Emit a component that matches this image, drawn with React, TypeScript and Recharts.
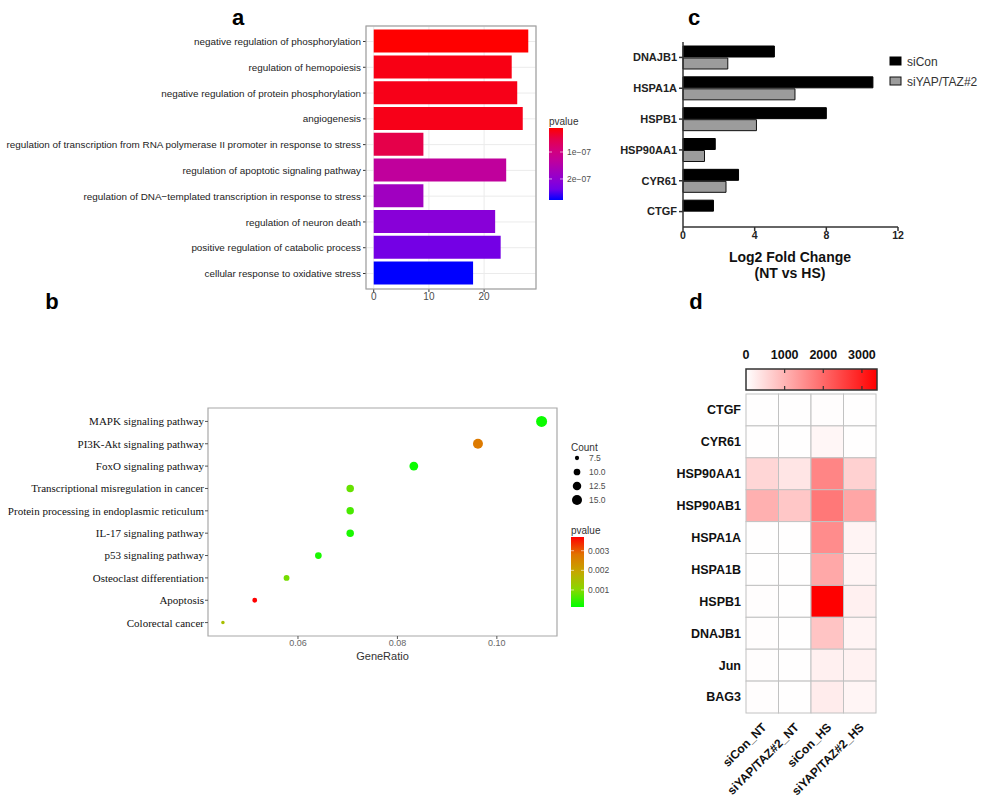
import React from 'react';
import {
  BarChart, Bar, XAxis, YAxis, CartesianGrid, Cell, ReferenceArea,
  ScatterChart, Scatter, ZAxis,
} from 'recharts';

const SANS = '"Liberation Sans", Arial, sans-serif';
const SERIF = '"Liberation Serif", "Times New Roman", serif';

// ---------- panel a: GO enrichment (count, pvalue)
const goTerms = [
  'negative regulation of phosphorylation',
  'regulation of hemopoiesis',
  'negative regulation of protein phosphorylation',
  'angiogenesis',
  'regulation of transcription from RNA polymerase II promoter in response to stress',
  'regulation of apoptotic signaling pathway',
  'regulation of DNA\u2212templated transcription in response to stress',
  'regulation of neuron death',
  'positive regulation of catabolic process',
  'cellular response to oxidative stress',
];
const goCounts = [28, 25, 26, 27, 9, 24, 9, 22, 23, 18];
const goPvalues = [1.1e-8, 2.2e-8, 2.4e-8, 2.4e-8, 5.1e-8, 1.31e-7, 1.77e-7, 2.11e-7, 2.33e-7, 2.78e-7];
const goCountTicks = [0, 10, 20];
const goPvalueTicks = [1e-7, 2e-7];
const goPvalueRange = [1.1e-8, 2.78e-7];

// ---------- panel b: KEGG dot plot
const keggPathways = [
  'MAPK signaling pathway',
  'PI3K-Akt signaling pathway',
  'FoxO signaling pathway',
  'Transcriptional misregulation in cancer',
  'Protein processing in endoplasmic reticulum',
  'IL-17 signaling pathway',
  'p53 signaling pathway',
  'Osteoclast differentiation',
  'Apoptosis',
  'Colorectal cancer',
];
const keggGeneRatio = [0.109, 0.0962, 0.0833, 0.0705, 0.0705, 0.0705, 0.0641, 0.0577, 0.0513, 0.0449];
const keggCounts = [17, 15, 13, 11, 11, 11, 10, 9, 8, 7];
const keggPvalues = [0.0002, 0.0027, 0.0002, 0.0008, 0.0006, 0.0003, 0.0003, 0.0009, 0.0037, 0.0015];
const keggRatioTicks = [0.06, 0.08, 0.1];
const keggCountBreaks = [7.5, 10, 12.5, 15];
const keggPvalueTicks = [0.003, 0.002, 0.001];
const keggPvalueRange = [0.00013, 0.0037];

// ---------- panel c: log2 fold change
const fcGenes = ['DNAJB1', 'HSPA1A', 'HSPB1', 'HSP90AA1', 'CYR61', 'CTGF'];
const fcSiCon = [5.1, 10.6, 8.0, 1.8, 3.1, 1.7];
const fcSiYAP = [2.5, 6.25, 4.1, 1.2, 2.4, 0];
const fcTicks = [0, 4, 8, 12];

// ---------- panel d: heatmap
const heatGenes = ['CTGF', 'CYR61', 'HSP90AA1', 'HSP90AB1', 'HSPA1A', 'HSPA1B', 'HSPB1', 'DNAJB1', 'Jun', 'BAG3'];
const heatSamples = ['siCon_NT', 'siYAP/TAZ#2_NT', 'siCon_HS', 'siYAP/TAZ#2_HS'];
const heatSiConNT = [15, 10, 540, 1050, 15, 15, 20, 20, 20, 20];
const heatSiYapNT = [10, 10, 340, 740, 10, 10, 10, 10, 15, 15];
const heatSiConHS = [20, 120, 1620, 1800, 1530, 1160, 3390, 790, 200, 250];
const heatSiYapHS = [10, 10, 610, 1180, 150, 130, 200, 150, 170, 130];
const heatTicks = [0, 1000, 2000, 3000];
const heatMax = 3390;

// ---------- colour helpers
const RED_BLUE: [number, string][] = [
  [0, '#ff0000'], [0.15, '#e5004a'], [0.3, '#d4007a'], [0.45, '#c0009c'],
  [0.62, '#a000c0'], [0.75, '#8800d8'], [0.85, '#7000e8'], [1, '#0000ff'],
];
const GREEN_RED: [number, string][] = [
  [0, '#00ff00'], [0.25, '#88d800'], [0.5, '#c4a800'], [0.75, '#e07400'], [1, '#ff0000'],
];

const toRgb = (h: string) => [1, 3, 5].map((i) => parseInt(h.slice(i, i + 2), 16));
const toHex = (c: number[]) => '#' + c.map((v) => Math.round(v).toString(16).padStart(2, '0')).join('');

function mix(stops: [number, string][], t: number) {
  const c = Math.max(0, Math.min(1, t));
  for (let i = 1; i < stops.length; i++) {
    if (c <= stops[i][0]) {
      const [t0, a] = stops[i - 1];
      const [t1, b] = stops[i];
      const k = (c - t0) / (t1 - t0);
      const pa = toRgb(a);
      const pb = toRgb(b);
      return toHex(pa.map((v, j) => v + (pb[j] - v) * k));
    }
  }
  return stops[stops.length - 1][1];
}

const goColor = (p: number) => mix(RED_BLUE, (p - goPvalueRange[0]) / (goPvalueRange[1] - goPvalueRange[0]));
const keggColor = (p: number) => mix(GREEN_RED, (p - keggPvalueRange[0]) / (keggPvalueRange[1] - keggPvalueRange[0]));
const heatColor = (v: number) => {
  const g = 255 * (1 - Math.min(1, v / heatMax));
  return toHex([255, g, g]);
};

// ZAxis area mapping (also used for the Count legend)
const COUNT_DOMAIN = [7, 17];
const AREA_RANGE = [10, 95];
const countRadius = (c: number) => {
  const a = AREA_RANGE[0] + ((c - COUNT_DOMAIN[0]) / (COUNT_DOMAIN[1] - COUNT_DOMAIN[0])) * (AREA_RANGE[1] - AREA_RANGE[0]);
  return Math.sqrt(a / Math.PI);
};

const goData = goTerms.map((term, i) => ({ term, count: goCounts[i], pvalue: goPvalues[i] }));
const keggData = keggPathways.map((name, i) => ({
  name, rank: keggPathways.length - i, ratio: keggGeneRatio[i], count: keggCounts[i], pvalue: keggPvalues[i],
}));
const fcData = fcGenes.map((gene, i) => ({ gene, siCon: fcSiCon[i], siYAP: fcSiYAP[i] }));
const heatColumns = [heatSiConNT, heatSiYapNT, heatSiConHS, heatSiYapHS];
const heatData = heatGenes.flatMap((gene, row) =>
  heatColumns.map((col, c) => ({ gene, row, col: c, value: col[row] })));

// heatmap plot box
const HEAT_W = 130;
const HEAT_H = 319;
const CELL_W = HEAT_W / heatSamples.length;
const CELL_H = HEAT_H / heatGenes.length;

const HeatCell = (props: any) => {
  const { cx, cy, payload } = props;
  return (
    <rect x={cx - CELL_W / 2} y={cy - CELL_H / 2} width={CELL_W} height={CELL_H}
      fill={heatColor(payload.value)} stroke="#c2c2c2" strokeWidth={1} />
  );
};

const SampleTick = (props: any) => {
  const { x, y, payload } = props;
  return (
    <text transform={`translate(${x + 5},${y + 7}) rotate(-45)`} textAnchor="end"
      fontSize={12} fontWeight="bold" fontFamily={SANS} fill="#111">
      {heatSamples[payload.value]}
    </text>
  );
};

// single-line left tick (Recharts would wrap long labels)
const LeftTick = (props: any) => {
  const { x, y, payload, fmt, size, family, color, weight } = props;
  return (
    <text x={x} y={y} dy="0.36em" textAnchor="end" fontSize={size} fontFamily={family}
      fill={color} fontWeight={weight}>
      {fmt ? fmt(payload.value) : payload.value}
    </text>
  );
};

const box = (left: number, top: number): React.CSSProperties => ({ position: 'absolute', left, top });

export default function App() {
  const goLegendY = (p: number) => 128 + ((p - goPvalueRange[0]) / (goPvalueRange[1] - goPvalueRange[0])) * 72;
  const keggLegendY = (p: number) => 607 - ((p - keggPvalueRange[0]) / (keggPvalueRange[1] - keggPvalueRange[0])) * 70;
  const heatLegendX = (v: number) => 746 + (v / heatMax) * 131;

  return (
    <div style={{ position: 'absolute', left: 0, top: 0, width: 985, height: 804, background: '#fff', fontFamily: SANS, overflow: 'hidden' }}>
      {/* a */}
      <div style={box(0, 0)}>
        <BarChart width={560} height={310} data={goData} layout="vertical"
          margin={{ top: 26, right: 24, bottom: 5, left: 0 }} barSize={23}>
          <CartesianGrid stroke="#ebebeb" />
          <XAxis type="number" dataKey="count" domain={[-1.4, 29.4]} ticks={goCountTicks}
            axisLine={false} tickSize={3} tickMargin={1} stroke="#333" height={16}
            tick={{ fontSize: 10, fill: '#4d4d4d', fontFamily: SANS }} />
          <YAxis type="category" dataKey="term" width={366} interval={0}
            axisLine={false} tickSize={3} tickMargin={2} stroke="#333"
            padding={{ top: 2.6, bottom: 2.6 }}
            tick={<LeftTick size={9.9} family={SANS} color="#222" />} />
          <Bar dataKey="count" isAnimationActive={false}>
            {goData.map((d) => <Cell key={d.term} fill={goColor(d.pvalue)} />)}
          </Bar>
        </BarChart>
      </div>

      {/* b */}
      <div style={box(0, 390)}>
        <ScatterChart width={560} height={280} margin={{ top: 18, right: 3, bottom: 10, left: 0 }}>
          <XAxis type="number" dataKey="ratio" domain={[0.0419, 0.1121]} ticks={keggRatioTicks}
            tickFormatter={(v: number) => v.toFixed(2)} axisLine={false} tickSize={3} tickMargin={1}
            stroke="#555" height={24}
            tick={{ fontSize: 9, fill: '#666', fontFamily: SANS }}
            label={{ value: 'GeneRatio', position: 'insideBottom', offset: 0, fontSize: 11, fill: '#333', fontFamily: SANS }} />
          <YAxis type="number" dataKey="rank" domain={[0.4, 10.6]} ticks={keggData.map((d) => d.rank)}
            interval={0} width={208} axisLine={false} tickSize={3} tickMargin={1} stroke="#555"
            tick={<LeftTick size={11} family={SERIF} color="#111"
              fmt={(v: number) => keggPathways[keggPathways.length - v]} />} />
          <ZAxis type="number" dataKey="count" domain={COUNT_DOMAIN} range={AREA_RANGE} />
          <ReferenceArea x1={0.0419} x2={0.1121} y1={0.4} y2={10.6} fill="none" stroke="#a8a8a8" strokeWidth={1.2} />
          <Scatter data={keggData} isAnimationActive={false}>
            {keggData.map((d) => <Cell key={d.name} fill={keggColor(d.pvalue)} />)}
          </Scatter>
        </ScatterChart>
      </div>

      {/* c */}
      <div style={box(600, 30)}>
        <BarChart width={320} height={215} data={fcData} layout="vertical"
          margin={{ top: 12, right: 22, bottom: 4, left: 0 }} barCategoryGap={4} barGap={1}>
          <XAxis type="number" domain={[0, 12]} ticks={fcTicks} height={14}
            axisLine={{ stroke: '#333', strokeWidth: 1.5 }} tickLine={{ stroke: '#333', strokeWidth: 1.5 }}
            tickSize={4} tickMargin={1}
            tick={{ fontSize: 10.5, fontWeight: 'bold', fill: '#222', fontFamily: SANS }} />
          <YAxis type="category" dataKey="gene" width={83} interval={0}
            axisLine={{ stroke: '#333', strokeWidth: 1.5 }} tickLine={{ stroke: '#333', strokeWidth: 1.5 }}
            tickSize={4} tickMargin={2}
            tick={{ fontSize: 11, fontWeight: 'bold', fill: '#222', fontFamily: SANS }} />
          <Bar dataKey="siCon" fill="#000" stroke="#000" strokeWidth={1} isAnimationActive={false} />
          <Bar dataKey="siYAP" fill="#9c9c9c" stroke="#111" strokeWidth={1} isAnimationActive={false} />
        </BarChart>
      </div>

      {/* d */}
      <div style={box(600, 380)}>
        <ScatterChart width={290} height={424} margin={{ top: 14, right: 14, bottom: 11, left: 0 }}>
          <XAxis type="number" dataKey="col" domain={[-0.5, 3.5]} ticks={[0, 1, 2, 3]} interval={0}
            axisLine={false} tickLine={false} height={80} tick={<SampleTick />} />
          <YAxis type="number" dataKey="row" domain={[-0.5, 9.5]} reversed ticks={heatGenes.map((_, i) => i)}
            tickFormatter={(v: number) => heatGenes[v]} interval={0} width={146}
            axisLine={false} tickLine={false} tickSize={0} tickMargin={5}
            tick={{ fontSize: 12.5, fontWeight: 'bold', fill: '#111', fontFamily: SANS }} />
          <Scatter data={heatData} shape={<HeatCell />} isAnimationActive={false} />
        </ScatterChart>
      </div>

      {/* overlay: panel letters, frames, legends, titles */}
      <svg width={985} height={804} style={{ position: 'absolute', left: 0, top: 0, pointerEvents: 'none' }}
        fontFamily={SANS}>
        <defs>
          <linearGradient id="goGrad" x1="0" y1="0" x2="0" y2="1">
            {RED_BLUE.map(([o, c]) => <stop key={o} offset={o} stopColor={c} />)}
          </linearGradient>
          <linearGradient id="keggGrad" x1="0" y1="1" x2="0" y2="0">
            {GREEN_RED.map(([o, c]) => <stop key={o} offset={o} stopColor={c} />)}
          </linearGradient>
          <linearGradient id="heatGrad" x1="0" y1="0" x2="1" y2="0">
            <stop offset={0} stopColor="#ffffff" />
            <stop offset={1} stopColor="#ff0000" />
          </linearGradient>
        </defs>

        <g fontSize={22} fontWeight="bold" fill="#000" dominantBaseline="central" textAnchor="middle">
          <text x={238} y={17}>a</text>
          <text x={52} y={301}>b</text>
          <text x={694} y={17}>c</text>
          <text x={696} y={301}>d</text>
        </g>

        {/* a panel frame */}
        <rect x={366} y={26} width={170} height={263} fill="none" stroke="#a0a0a0" strokeWidth={1.2} />

        {/* a legend */}
        <text x={549} y={121} fontSize={10} fill="#333" dominantBaseline="central">pvalue</text>
        <rect x={549} y={128} width={14} height={72} fill="url(#goGrad)" />
        {goPvalueTicks.map((p) => (
          <g key={p}>
            <line x1={549} x2={552} y1={goLegendY(p)} y2={goLegendY(p)} stroke="#fff" strokeOpacity={0.6} />
            <line x1={560} x2={563} y1={goLegendY(p)} y2={goLegendY(p)} stroke="#fff" strokeOpacity={0.6} />
            <text x={567} y={goLegendY(p)} fontSize={8.5} fill="#4d4d4d" dominantBaseline="central">
              {p.toExponential(0).replace('e-', 'e\u22120')}
            </text>
          </g>
        ))}

        {/* b legends */}
        <text x={571} y={447} fontSize={10} fill="#333" dominantBaseline="central">Count</text>
        {keggCountBreaks.map((c, i) => (
          <g key={c}>
            <circle cx={577} cy={458 + i * 14} r={countRadius(c)} fill="#000" />
            <text x={589} y={458 + i * 14} fontSize={8.5} fill="#4d4d4d" dominantBaseline="central">{c.toFixed(1)}</text>
          </g>
        ))}
        <text x={571} y={530} fontSize={10} fill="#333" dominantBaseline="central">pvalue</text>
        <rect x={571} y={537} width={13} height={70} fill="url(#keggGrad)" />
        {keggPvalueTicks.map((p) => (
          <g key={p}>
            <line x1={571} x2={574} y1={keggLegendY(p)} y2={keggLegendY(p)} stroke="#fff" strokeOpacity={0.6} />
            <line x1={581} x2={584} y1={keggLegendY(p)} y2={keggLegendY(p)} stroke="#fff" strokeOpacity={0.6} />
            <text x={588} y={keggLegendY(p)} fontSize={8.5} fill="#4d4d4d" dominantBaseline="central">{p.toFixed(3)}</text>
          </g>
        ))}

        {/* c legend + axis title */}
        <rect x={890} y={57} width={11} height={8} fill="#000" stroke="#000" />
        <text x={907} y={61.5} fontSize={12} fill="#333" dominantBaseline="central">siCon</text>
        <rect x={890} y={77} width={11} height={8} fill="#9c9c9c" stroke="#111" />
        <text x={907} y={81.5} fontSize={12} fill="#333" dominantBaseline="central">siYAP/TAZ#2</text>
        <g fontSize={14} fontWeight="bold" fill="#111" textAnchor="middle" dominantBaseline="central">
          <text x={790} y={257}>Log2 Fold Change</text>
          <text x={790} y={273}>(NT vs HS)</text>
        </g>

        {/* d colour bar */}
        <rect x={746} y={369} width={131} height={21} fill="url(#heatGrad)" stroke="#333" strokeWidth={1.5} />
        {heatTicks.map((v) => (
          <g key={v}>
            {v > 0 && (
              <>
                <line x1={heatLegendX(v)} x2={heatLegendX(v)} y1={369} y2={373} stroke="#333" strokeWidth={1.2} />
                <line x1={heatLegendX(v)} x2={heatLegendX(v)} y1={386} y2={390} stroke="#333" strokeWidth={1.2} />
              </>
            )}
            <text x={heatLegendX(v)} y={355} fontSize={12.5} fontWeight="bold" fill="#111"
              textAnchor="middle" dominantBaseline="central">{v}</text>
          </g>
        ))}
      </svg>
    </div>
  );
}
